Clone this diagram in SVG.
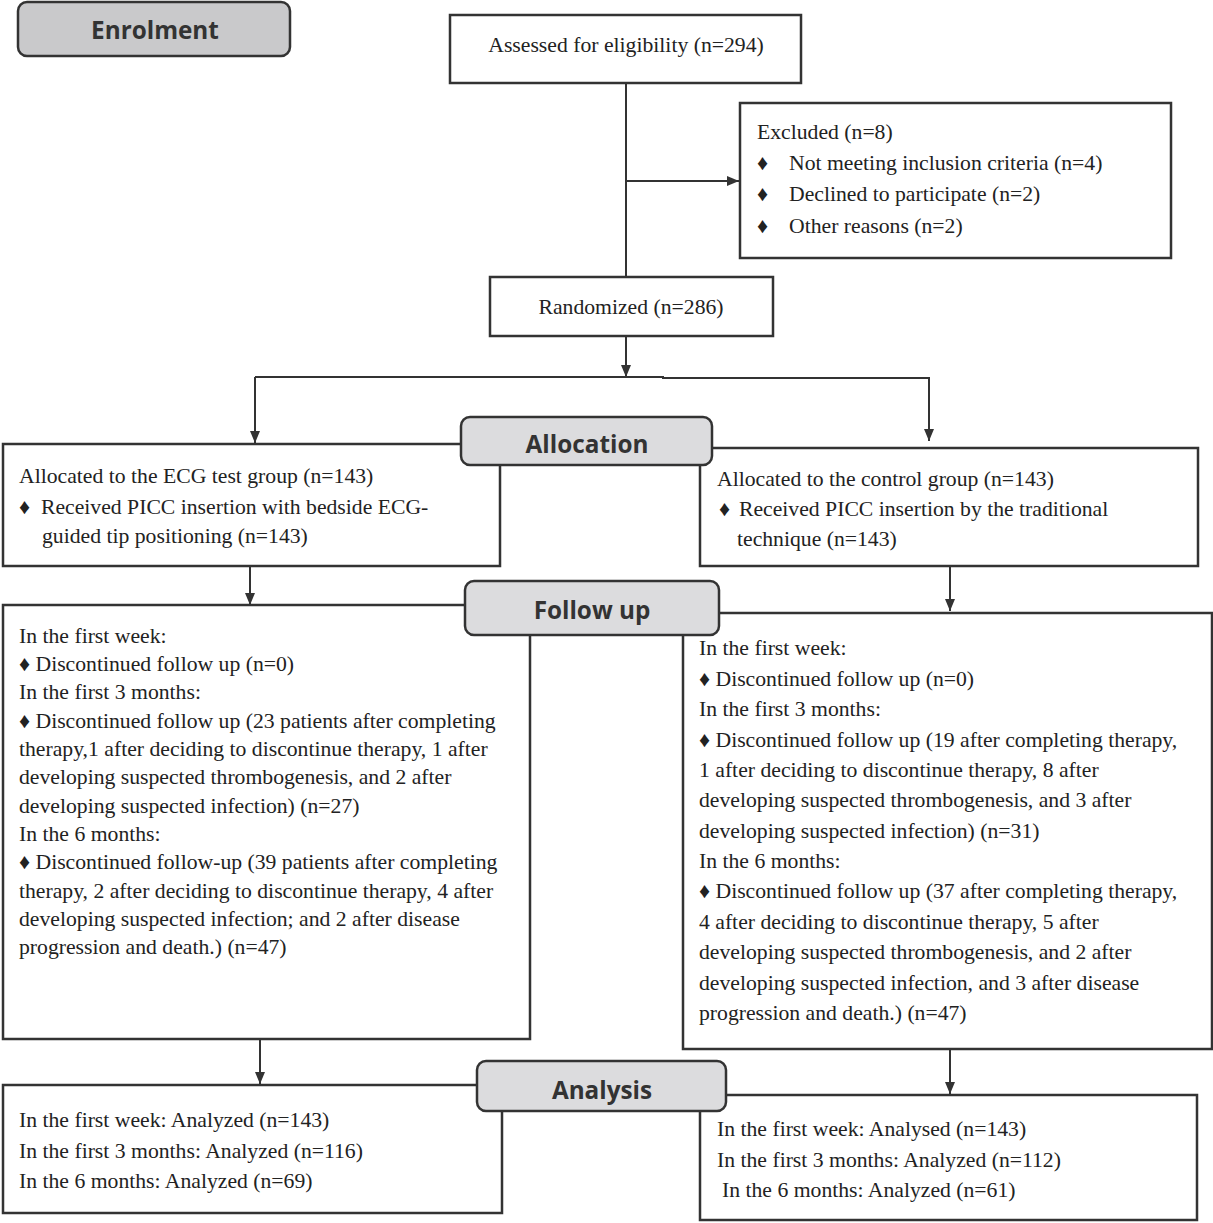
<svg xmlns="http://www.w3.org/2000/svg" width="1213" height="1223" viewBox="0 0 1213 1223">
<defs>
<marker id="ah" viewBox="0 0 12 10" refX="12" refY="5" markerWidth="12" markerHeight="10" markerUnits="userSpaceOnUse" orient="auto">
<path d="M0,0 L12,5 L0,10 Z" fill="#333"/>
</marker>
<style>
.box{fill:#fff;stroke:#333;stroke-width:2.5}
.lab{fill:#dcdcde;stroke:#333;stroke-width:2.5}
.labd{fill:#c9c9cb;stroke:#333;stroke-width:2.5}
.ln{fill:none;stroke:#333;stroke-width:2}
.t{font-family:"Liberation Serif","Times New Roman",serif;font-size:21.7px;fill:#222}
.h{font-family:"Open Sans","Noto Sans",sans-serif;font-size:24.3px;font-weight:bold;fill:#333;text-anchor:middle}
.c{text-anchor:middle}
</style>
</defs>
<rect width="1213" height="1223" fill="#fff"/>

<g id="connectors">
<line class="ln" x1="626" y1="84" x2="626" y2="277"/>
<line class="ln" x1="626" y1="181" x2="739" y2="181" marker-end="url(#ah)"/>
<line class="ln" x1="626" y1="336" x2="626" y2="377" marker-end="url(#ah)"/>
<polyline class="ln" points="255,377 663,377 663,378 929,378 929,441" marker-end="url(#ah)"/>
<line class="ln" x1="255" y1="377" x2="255" y2="443" marker-end="url(#ah)"/>
<line class="ln" x1="250" y1="566" x2="250" y2="605" marker-end="url(#ah)"/>
<line class="ln" x1="950" y1="566" x2="950" y2="611" marker-end="url(#ah)"/>
<line class="ln" x1="260" y1="1039" x2="260" y2="1084" marker-end="url(#ah)"/>
<line class="ln" x1="950" y1="1049" x2="950" y2="1094" marker-end="url(#ah)"/>
</g>

<g id="assessed">
<rect class="box" x="450" y="15" width="351" height="68"/>
<text class="t c" x="626" y="52">Assessed for eligibility (n=294)</text>
</g>

<g id="excluded">
<rect class="box" x="740" y="103" width="431" height="155"/>
<text class="t" x="757" y="139">Excluded (n=8)</text>
<text class="t" x="757" y="170">♦</text><text class="t" x="789" y="170">Not meeting inclusion criteria (n=4)</text>
<text class="t" x="757" y="201">♦</text><text class="t" x="789" y="201">Declined to participate (n=2)</text>
<text class="t" x="757" y="233">♦</text><text class="t" x="789" y="233">Other reasons (n=2)</text>
</g>

<g id="randomized">
<rect class="box" x="490" y="277" width="283" height="59"/>
<text class="t c" x="631" y="314">Randomized (n=286)</text>
</g>

<g id="alloc-left">
<rect class="box" x="3" y="444" width="497" height="122"/>
<text class="t" x="19" y="483">Allocated to the ECG test group (n=143)</text>
<text class="t" x="19" y="514">♦</text><text class="t" x="41" y="514">Received PICC insertion with bedside ECG-</text>
<text class="t" x="42" y="543">guided tip positioning (n=143)</text>
</g>

<g id="alloc-right">
<rect class="box" x="700" y="448" width="498" height="118"/>
<text class="t" x="717" y="486">Allocated to the control group (n=143)</text>
<text class="t" x="719" y="516">♦</text><text class="t" x="739" y="516">Received PICC insertion by the traditional</text>
<text class="t" x="737" y="546">technique (n=143)</text>
</g>

<g id="follow-left">
<rect class="box" x="3" y="605" width="527" height="434"/>
<text class="t" x="19" y="643">In the first week:</text>
<text class="t" x="19" y="671">♦ Discontinued follow up (n=0)</text>
<text class="t" x="19" y="699">In the first 3 months:</text>
<text class="t" x="19" y="728">♦ Discontinued follow up (23 patients after completing</text>
<text class="t" x="19" y="756">therapy,1 after deciding to discontinue therapy, 1 after</text>
<text class="t" x="19" y="784">developing suspected thrombogenesis, and 2 after</text>
<text class="t" x="19" y="813">developing suspected infection) (n=27)</text>
<text class="t" x="19" y="841">In the 6 months:</text>
<text class="t" x="19" y="869">♦ Discontinued follow-up (39 patients after completing</text>
<text class="t" x="19" y="898">therapy, 2 after deciding to discontinue therapy, 4 after</text>
<text class="t" x="19" y="926">developing suspected infection; and 2 after disease</text>
<text class="t" x="19" y="954">progression and death.) (n=47)</text>
</g>

<g id="follow-right">
<rect class="box" x="683" y="613" width="529" height="436"/>
<text class="t" x="699" y="655">In the first week:</text>
<text class="t" x="699" y="686">♦ Discontinued follow up (n=0)</text>
<text class="t" x="699" y="716">In the first 3 months:</text>
<text class="t" x="699" y="747">♦ Discontinued follow up (19 after completing therapy,</text>
<text class="t" x="699" y="777">1 after deciding to discontinue therapy, 8 after</text>
<text class="t" x="699" y="807">developing suspected thrombogenesis, and 3 after</text>
<text class="t" x="699" y="838">developing suspected infection) (n=31)</text>
<text class="t" x="699" y="868">In the 6 months:</text>
<text class="t" x="699" y="898">♦ Discontinued follow up (37 after completing therapy,</text>
<text class="t" x="699" y="929">4 after deciding to discontinue therapy, 5 after</text>
<text class="t" x="699" y="959">developing suspected thrombogenesis, and 2 after</text>
<text class="t" x="699" y="990">developing suspected infection, and 3 after disease</text>
<text class="t" x="699" y="1020">progression and death.) (n=47)</text>
</g>

<g id="analysis-left">
<rect class="box" x="3" y="1085" width="499" height="128"/>
<text class="t" x="19" y="1127">In the first week: Analyzed (n=143)</text>
<text class="t" x="19" y="1158">In the first 3 months: Analyzed (n=116)</text>
<text class="t" x="19" y="1188">In the 6 months: Analyzed (n=69)</text>
</g>

<g id="analysis-right">
<rect class="box" x="700" y="1095" width="497" height="125"/>
<text class="t" x="717" y="1136">In the first week: Analysed (n=143)</text>
<text class="t" x="717" y="1167">In the first 3 months: Analyzed (n=112)</text>
<text class="t" x="722" y="1197">In the 6 months: Analyzed (n=61)</text>
</g>

<g id="label-enrolment">
<rect class="labd" x="18" y="2" width="272" height="54" rx="9"/>
<text class="h" x="155" y="39">Enrolment</text>
</g>
<g id="label-allocation">
<rect class="lab" x="461" y="417" width="251" height="48" rx="9"/>
<text class="h" x="587" y="453">Allocation</text>
</g>
<g id="label-followup">
<rect class="lab" x="465" y="581" width="254" height="54" rx="9"/>
<text class="h" x="592" y="619">Follow up</text>
</g>
<g id="label-analysis">
<rect class="lab" x="477" y="1061" width="249" height="50" rx="9"/>
<text class="h" x="602" y="1099">Analysis</text>
</g>
</svg>
